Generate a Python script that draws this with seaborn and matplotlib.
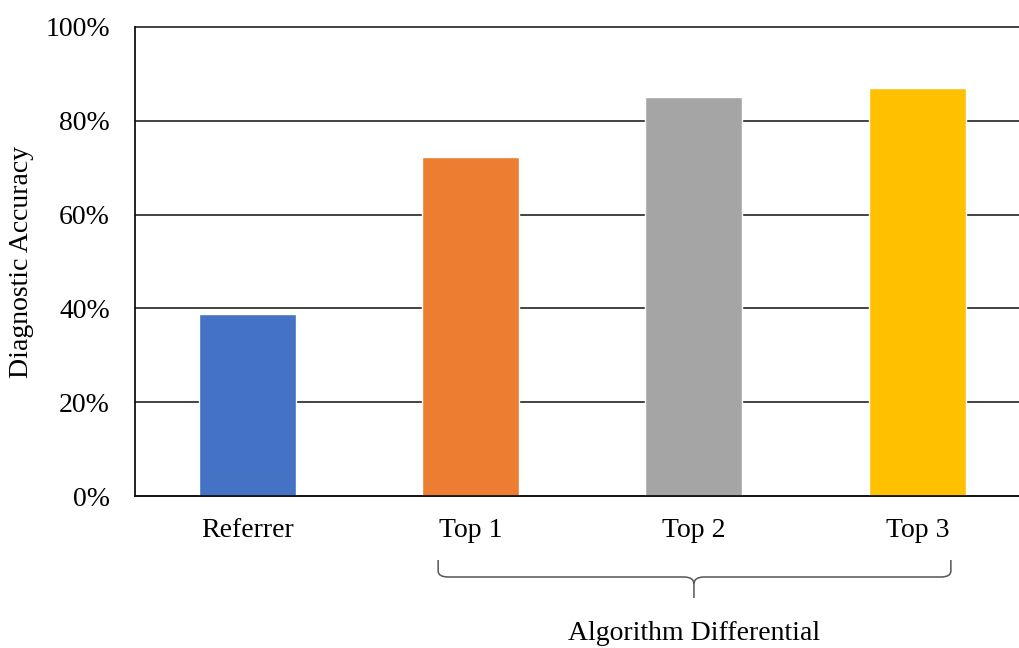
import matplotlib
matplotlib.use("Agg")
import matplotlib.pyplot as plt
import seaborn as sns
import pandas as pd
from matplotlib.path import Path
from matplotlib.patches import PathPatch
from matplotlib.ticker import PercentFormatter, FixedLocator
import matplotlib.transforms as mtransforms

categories = ["Referrer", "Top 1", "Top 2", "Top 3"]
accuracy = [0.389, 0.723, 0.851, 0.869]
colors = ["#4472C4", "#ED7D31", "#A5A5A5", "#FFC000"]
y_ticks = [0.0, 0.2, 0.4, 0.6, 0.8, 1.0]
y_label = "Diagnostic Accuracy"
group_label = "Algorithm Differential"

sns.set_theme(style="white")
plt.rcParams["font.family"] = ["Liberation Serif", "DejaVu Serif"]

df = pd.DataFrame({"cat": categories, "acc": accuracy})

W, H = 1019, 648
FS = 20
fig = plt.figure(figsize=(W / 100, H / 100), dpi=100)
ax = fig.add_axes([135 / W, (H - 496) / H, 1 - 135 / W, (496 - 27) / H])

sns.barplot(data=df, x="cat", y="acc", hue="cat", palette=colors,
            width=0.434, legend=False, ax=ax, saturation=1)

ax.set_ylim(0, 1.0)
ax.set_xlim(-0.502, 3.455)
ax.yaxis.set_major_locator(FixedLocator(y_ticks))
ax.yaxis.set_major_formatter(PercentFormatter(1.0, decimals=0))
ax.grid(axis="y", color="#222222", linewidth=1.2)
for gl in ax.yaxis.get_gridlines():
    gl.set_clip_on(False)
ax.set_axisbelow(True)
for s in ["top", "right"]:
    ax.spines[s].set_visible(False)
for s in ["left", "bottom"]:
    ax.spines[s].set_color("#111111")
    ax.spines[s].set_linewidth(1.3)
ax.tick_params(axis="both", length=0, labelsize=FS, colors="black")
ax.tick_params(axis="y", pad=18)
ax.tick_params(axis="x", pad=16)
ax.set_xlabel("")
ax.set_ylabel("")
fig.text(22 / W, 1 - 262 / H, y_label, rotation=90, ha="center", va="center",
         fontsize=FS, color="black")

# brace under Top 1 .. Top 3
trans = mtransforms.blended_transform_factory(ax.transData, fig.transFigure)
x0, x1 = 0.855, 3.15
xc = (1 + 3) / 2
r = 0.045
def fy(py):
    return 1 - py / H
y_top, y_line, y_tip = fy(560), fy(577), fy(598)
y_cusp = fy(584)
y_end_curve = fy(571)
verts = [
    (x0, y_top), (x0, y_end_curve),
    (x0, y_line), (x0 + r, y_line),
    (xc - r, y_line),
    (xc, y_line), (xc, y_cusp),
    (xc, y_tip),
]
codes = [Path.MOVETO, Path.LINETO, Path.CURVE3, Path.CURVE3, Path.LINETO,
         Path.CURVE3, Path.CURVE3, Path.LINETO]
verts2 = [
    (x1, y_top), (x1, y_end_curve),
    (x1, y_line), (x1 - r, y_line),
    (xc + r, y_line),
    (xc, y_line), (xc, y_cusp),
]
codes2 = [Path.MOVETO, Path.LINETO, Path.CURVE3, Path.CURVE3, Path.LINETO,
          Path.CURVE3, Path.CURVE3]
for v, c in [(verts, codes), (verts2, codes2)]:
    p = PathPatch(Path(v, c), transform=trans, fill=False, edgecolor="#555555",
                  linewidth=1.1, clip_on=False)
    fig.add_artist(p)

fig.text(694 / W, 1 - 634 / H, group_label, ha="center", va="center",
         fontsize=FS, color="black")

fig.savefig("out.png", dpi=100)
